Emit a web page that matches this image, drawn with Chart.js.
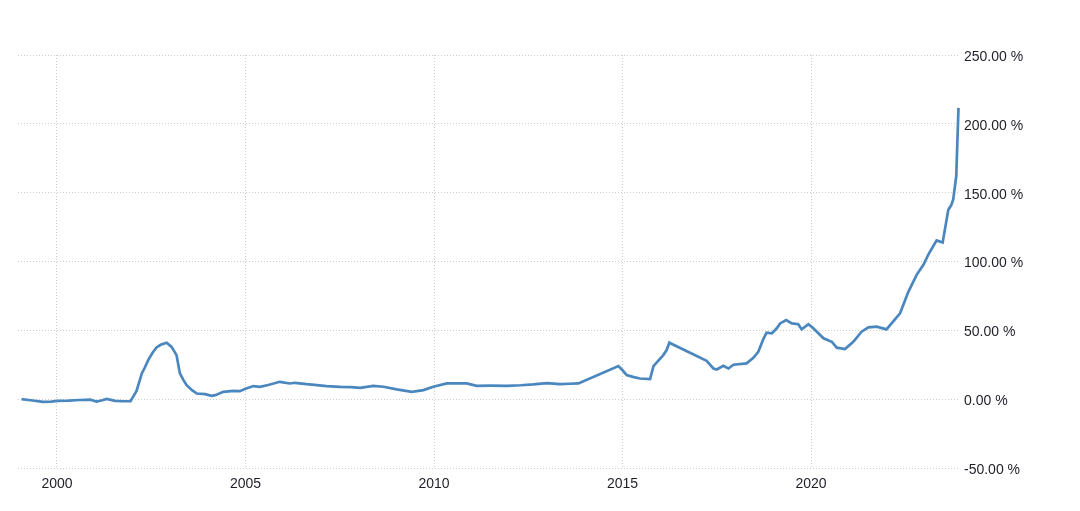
<!DOCTYPE html>
<html>
<head>
<meta charset="utf-8">
<script src="https://cdn.jsdelivr.net/npm/chart.js@4.4.1/dist/chart.umd.min.js"></script>
<style>
  html, body { margin: 0; padding: 0; background: #fff; }
  #wrap { width: 1080px; height: 511px; position: relative; }
</style>
</head>
<body>
<div id="wrap"><canvas id="grafica"></canvas></div>
<script>
// fechas en años decimales, inflación interanual en %
const fechas = [
    1999.06, 1999.3, 1999.63, 1999.85, 2000.0, 2000.3, 2000.6, 2000.88, 2001.05, 2001.2,
    2001.32, 2001.54, 2001.75, 2001.95, 2002.11, 2002.25, 2002.33, 2002.42, 2002.53, 2002.64,
    2002.75, 2002.91, 2003.04, 2003.17, 2003.26, 2003.35, 2003.44, 2003.58, 2003.71, 2003.93,
    2004.1, 2004.2, 2004.41, 2004.68, 2004.85, 2005.0, 2005.21, 2005.38, 2005.6, 2005.91,
    2006.18, 2006.31, 2006.62, 2006.9, 2007.15, 2007.51, 2007.8, 2008.04, 2008.39, 2008.66,
    2009.01, 2009.41, 2009.72, 2009.98, 2010.34, 2010.87, 2011.13, 2011.5, 2011.93, 2012.3,
    2012.63, 2012.99, 2013.34, 2013.6, 2013.83, 2014.89, 2015.0, 2015.11, 2015.3, 2015.46,
    2015.73, 2015.82, 2016.08, 2016.17, 2016.24, 2017.23, 2017.41, 2017.5, 2017.67, 2017.81,
    2017.94, 2018.29, 2018.47, 2018.6, 2018.74, 2018.82, 2018.96, 2019.09, 2019.18, 2019.34,
    2019.49, 2019.66, 2019.75, 2019.93, 2020.06, 2020.24, 2020.33, 2020.55, 2020.68, 2020.9,
    2021.12, 2021.34, 2021.52, 2021.74, 2022.0, 2022.36, 2022.58, 2022.8, 2022.98, 2023.11,
    2023.33, 2023.49, 2023.64, 2023.72, 2023.77, 2023.85, 2023.91
];
const inflacion = [
    0, -0.8, -2, -1.8, -1.2, -1.0, -0.6, -0.4, -1.7, -0.8,
    0.2, -1.2, -1.5, -1.5, 6, 18.7, 23, 28.4, 33.5, 37.6,
    39.5, 41, 38, 32, 18.7, 14, 10.2, 6.5, 4.1, 3.6,
    2.4, 2.9, 5.3, 6, 5.8, 7.5, 9.5, 9, 10.3, 12.6,
    11.4, 11.9, 10.9, 10.2, 9.5, 9.0, 8.8, 8.2, 9.7, 9,
    7.1, 5.3, 6.6, 9, 11.4, 11.4, 9.7, 9.8, 9.7, 10.1,
    10.7, 11.6, 10.9, 11.2, 11.4, 24, 21, 17.5, 16, 15,
    14.6, 24, 32, 35.7, 41, 27.9, 22.3, 21.6, 24.3, 22.3,
    25, 26, 30, 34.4, 44, 48.3, 47.8, 51.5, 55, 57.5,
    55, 54.4, 50.8, 54.4, 51.5, 46.6, 44.2, 41.7, 37.4, 36.4,
    41.7, 49, 52.2, 52.7, 50.7, 62.4, 78, 90.3, 97.6, 105,
    115.3, 113.8, 137.6, 141, 145, 161.9, 211.6
];
const aniosEje = [2000, 2005, 2010, 2015, 2020];
const valoresEje = [-50, 0, 50, 100, 150, 200, 250];

const colorLinea = '#4b87bf';
const colorGrilla = '#cccccc';
const colorTexto = '#1e1e28';

const ctx = document.getElementById('grafica');
new Chart(ctx, {
    type: 'line',
    data: {
        datasets: [{
            label: 'Inflación',
            data: fechas.map((f, i) => ({ x: f, y: inflacion[i] })),
            borderColor: colorLinea,
            borderWidth: 2.7,
            pointRadius: 0,
            tension: 0,
            fill: false
        }]
    },
    options: {
        responsive: true,
        maintainAspectRatio: false,
        animation: false,
        layout: {
            padding: { top: 55, left: 18, right: 0, bottom: 0 }
        },
        scales: {
            x: {
                type: 'linear',
                min: 1998.966,
                max: 2023.95,
                afterBuildTicks: axis => {
                    axis.ticks = aniosEje.map(v => ({ value: v }));
                },
                afterFit: axis => { axis.height = 43; },
                grid: {
                    color: colorGrilla,
                    drawTicks: false
                },
                border: { display: false, dash: [1, 2] },
                ticks: {
                    color: colorTexto,
                    font: { family: 'Liberation Sans', size: 14 },
                    padding: 8,
                    maxRotation: 0,
                    callback: v => String(v)
                }
            },
            y: {
                position: 'right',
                min: -50,
                max: 250,
                afterBuildTicks: axis => {
                    axis.ticks = valoresEje.map(v => ({ value: v }));
                },
                afterFit: axis => { axis.width = 120; },
                grid: {
                    color: colorGrilla,
                    drawTicks: false
                },
                border: { display: false, dash: [1, 2] },
                ticks: {
                    color: colorTexto,
                    font: { family: 'Liberation Sans', size: 14 },
                    padding: 4,
                    labelOffset: 2,
                    callback: v => v.toFixed(2) + ' %'
                }
            }
        },
        plugins: {
            legend: { display: false },
            tooltip: { enabled: false }
        }
    }
});
</script>
</body>
</html>
